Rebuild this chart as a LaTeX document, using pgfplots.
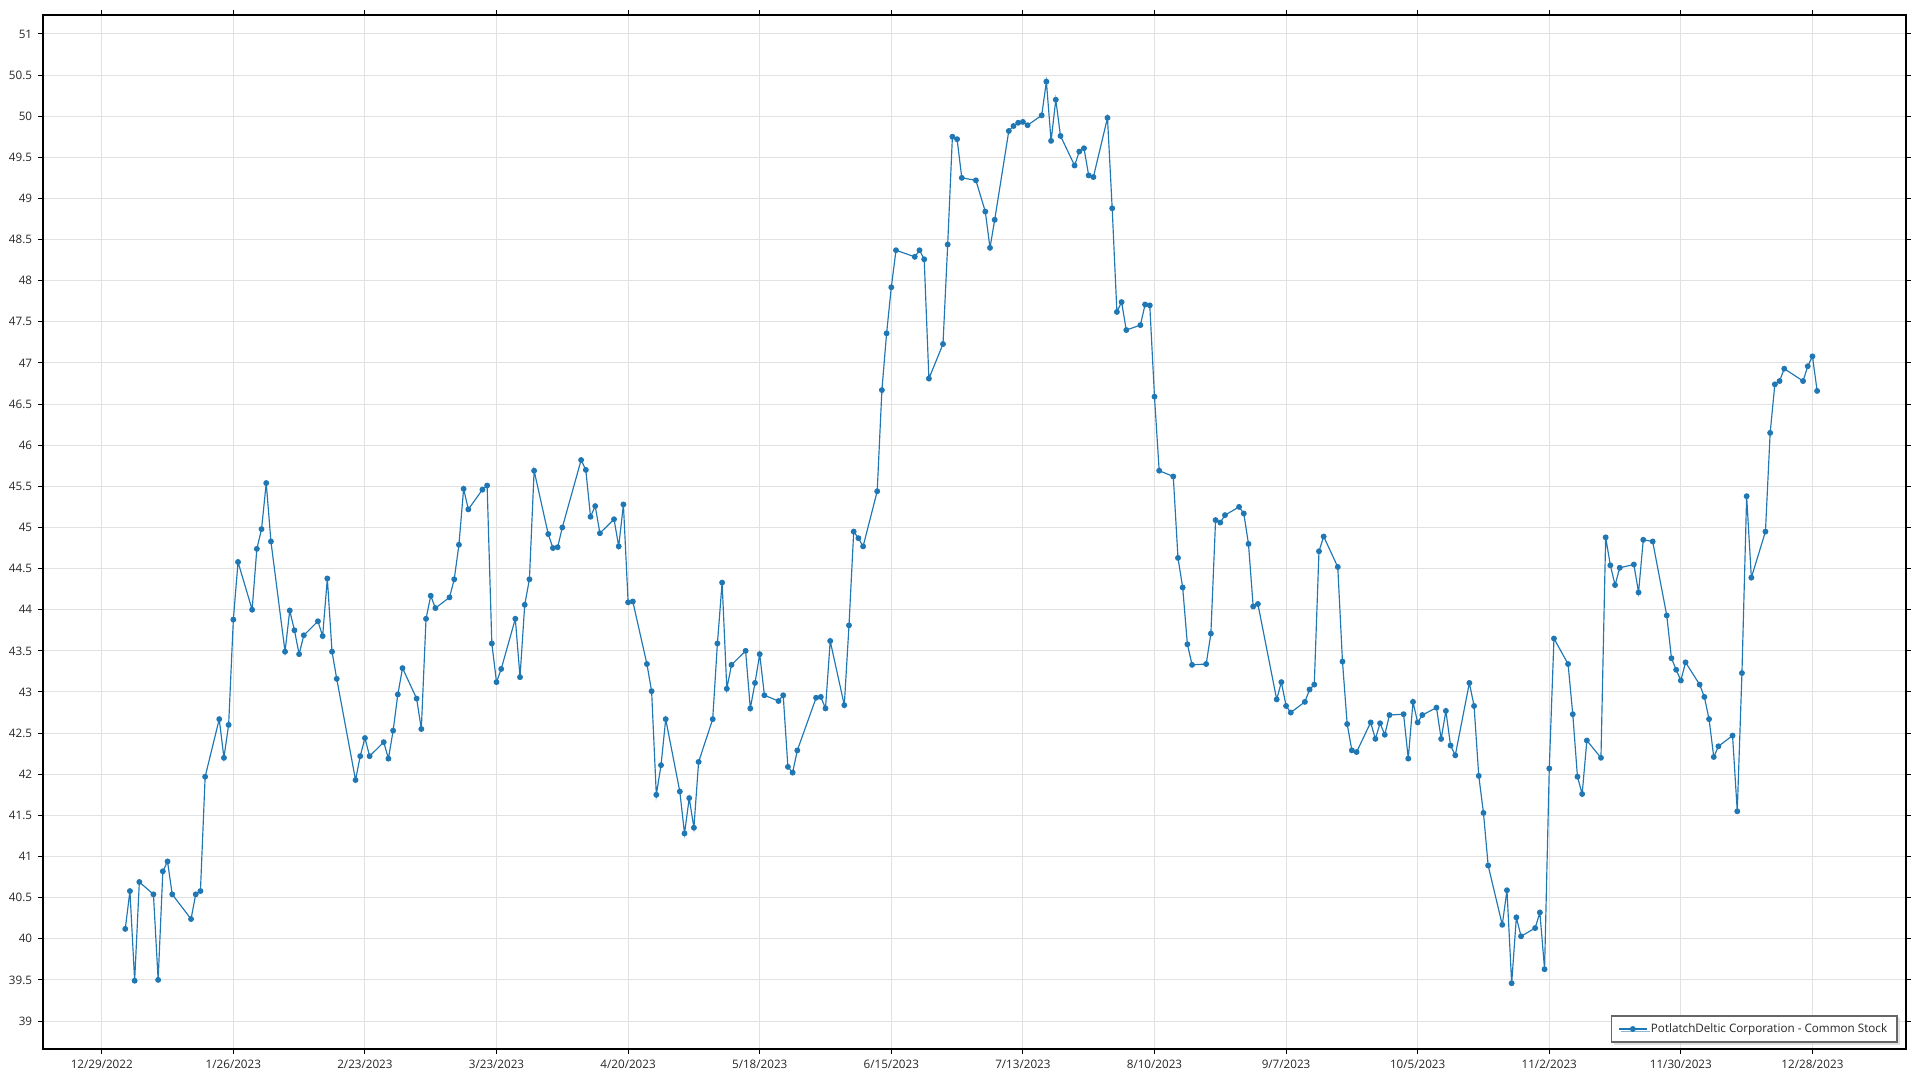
\documentclass[border=0pt]{standalone}
\usepackage{pgfplots}
\usepackage{pgfplotstable}
\pgfplotsset{compat=1.18}
\usepackage{fontspec}
\setmainfont{Open Sans}
\usetikzlibrary{shadows}

\definecolor{series}{RGB}{31,119,180}
\definecolor{gridgray}{RGB}{226,226,226}

% day = days after 12/29/2022, price = close
\pgfplotstableread{
day price
5 40.12
6 40.58
7 39.49
8 40.69
11 40.54
12 39.50
13 40.82
14 40.94
15 40.54
19 40.24
20 40.54
21 40.58
22 41.97
25 42.67
26 42.20
27 42.60
28 43.88
29 44.58
32 44.00
33 44.74
34 44.98
35 45.54
36 44.83
39 43.49
40 43.99
41 43.75
42 43.46
43 43.69
46 43.86
47 43.68
48 44.38
49 43.49
50 43.16
54 41.93
55 42.22
56 42.44
57 42.22
60 42.39
61 42.19
62 42.53
63 42.97
64 43.29
67 42.92
68 42.55
69 43.89
70 44.17
71 44.02
74 44.15
75 44.37
76 44.79
77 45.47
78 45.22
81 45.46
82 45.51
83 43.59
84 43.12
85 43.28
88 43.89
89 43.18
90 44.06
91 44.37
92 45.69
95 44.92
96 44.75
97 44.76
98 45.00
102 45.82
103 45.70
104 45.13
105 45.26
106 44.93
109 45.10
110 44.77
111 45.28
112 44.09
113 44.10
116 43.34
117 43.01
118 41.75
119 42.11
120 42.67
123 41.79
124 41.28
125 41.71
126 41.35
127 42.15
130 42.67
131 43.59
132 44.33
133 43.04
134 43.33
137 43.50
138 42.80
139 43.11
140 43.46
141 42.96
144 42.89
145 42.96
146 42.09
147 42.02
148 42.29
152 42.93
153 42.94
154 42.80
155 43.62
158 42.84
159 43.81
160 44.95
161 44.87
162 44.77
165 45.44
166 46.67
167 47.36
168 47.92
169 48.37
173 48.29
174 48.37
175 48.26
176 46.81
179 47.23
180 48.44
181 49.75
182 49.72
183 49.25
186 49.22
188 48.84
189 48.40
190 48.74
193 49.82
194 49.88
195 49.92
196 49.93
197 49.89
200 50.01
201 50.42
202 49.70
203 50.20
204 49.76
207 49.40
208 49.57
209 49.61
210 49.28
211 49.26
214 49.98
215 48.88
216 47.62
217 47.74
218 47.40
221 47.46
222 47.71
223 47.70
224 46.59
225 45.69
228 45.62
229 44.63
230 44.27
231 43.58
232 43.33
235 43.34
236 43.71
237 45.09
238 45.06
239 45.15
242 45.25
243 45.17
244 44.80
245 44.04
246 44.07
250 42.91
251 43.12
252 42.83
253 42.75
256 42.88
257 43.03
258 43.09
259 44.71
260 44.89
263 44.52
264 43.37
265 42.61
266 42.29
267 42.27
270 42.63
271 42.43
272 42.62
273 42.48
274 42.72
277 42.73
278 42.19
279 42.88
280 42.63
281 42.72
284 42.81
285 42.43
286 42.77
287 42.35
288 42.23
291 43.11
292 42.83
293 41.98
294 41.53
295 40.89
298 40.17
299 40.59
300 39.46
301 40.26
302 40.03
305 40.13
306 40.32
307 39.63
308 42.07
309 43.65
312 43.34
313 42.73
314 41.97
315 41.76
316 42.41
319 42.20
320 44.88
321 44.54
322 44.30
323 44.51
326 44.55
327 44.21
328 44.85
330 44.83
333 43.93
334 43.41
335 43.27
336 43.14
337 43.36
340 43.09
341 42.94
342 42.67
343 42.21
344 42.34
347 42.47
348 41.55
349 43.23
350 45.38
351 44.39
354 44.95
355 46.15
356 46.74
357 46.78
358 46.93
362 46.78
363 46.96
364 47.08
365 46.66
}\prices

\begin{document}
\begin{tikzpicture}
\begin{axis}[
    scale only axis,
    width=1117.8pt, height=620.4pt,
    xmin=-12.5, xmax=383.9,
    ymin=38.66, ymax=51.23,
    xtick={0,28,56,84,112,140,168,196,224,252,280,308,336,364},
    xticklabels={12/29/2022,1/26/2023,2/23/2023,3/23/2023,4/20/2023,5/18/2023,6/15/2023,7/13/2023,8/10/2023,9/7/2023,10/5/2023,11/2/2023,11/30/2023,12/28/2023},
    ytick={39,39.5,40,40.5,41,41.5,42,42.5,43,43.5,44,44.5,45,45.5,46,46.5,47,47.5,48,48.5,49,49.5,50,50.5,51},
    yticklabel style={/pgf/number format/fixed, /pgf/number format/precision=1},
    /pgf/number format/assume math mode=true,
    ticklabel style={font=\fontsize{7}{8}\selectfont, text=black!85},
    grid=major,
    major grid style={gridgray, line width=0.6pt},
    axis line style={black, line width=0.7pt},
    tick align=outside,
    major tick length=3pt,
    tick style={black, line width=0.6pt},
    legend cell align=left,
    legend style={
        at={(1,0)}, anchor=south east,
        xshift=-4.8pt, yshift=3.6pt,
        draw=black!60, line width=1pt, fill=white,
        drop shadow={shadow xshift=1.5pt, shadow yshift=-1.5pt, fill=black!22},
        font=\fontsize{7}{8}\selectfont, text=black!85,
        inner xsep=4pt, inner ysep=2.5pt,
    },
]
\addplot[series, line width=0.7pt, mark=*, mark size=1.4pt,
    mark options={fill=series, draw=series}] table[x=day, y=price] {\prices};
\addlegendentry{PotlatchDeltic Corporation - Common Stock}
\end{axis}
\pgfresetboundingbox
\path (-25.8pt,-18.6pt) rectangle (1126.2pt,629.4pt);
\end{tikzpicture}
\end{document}
